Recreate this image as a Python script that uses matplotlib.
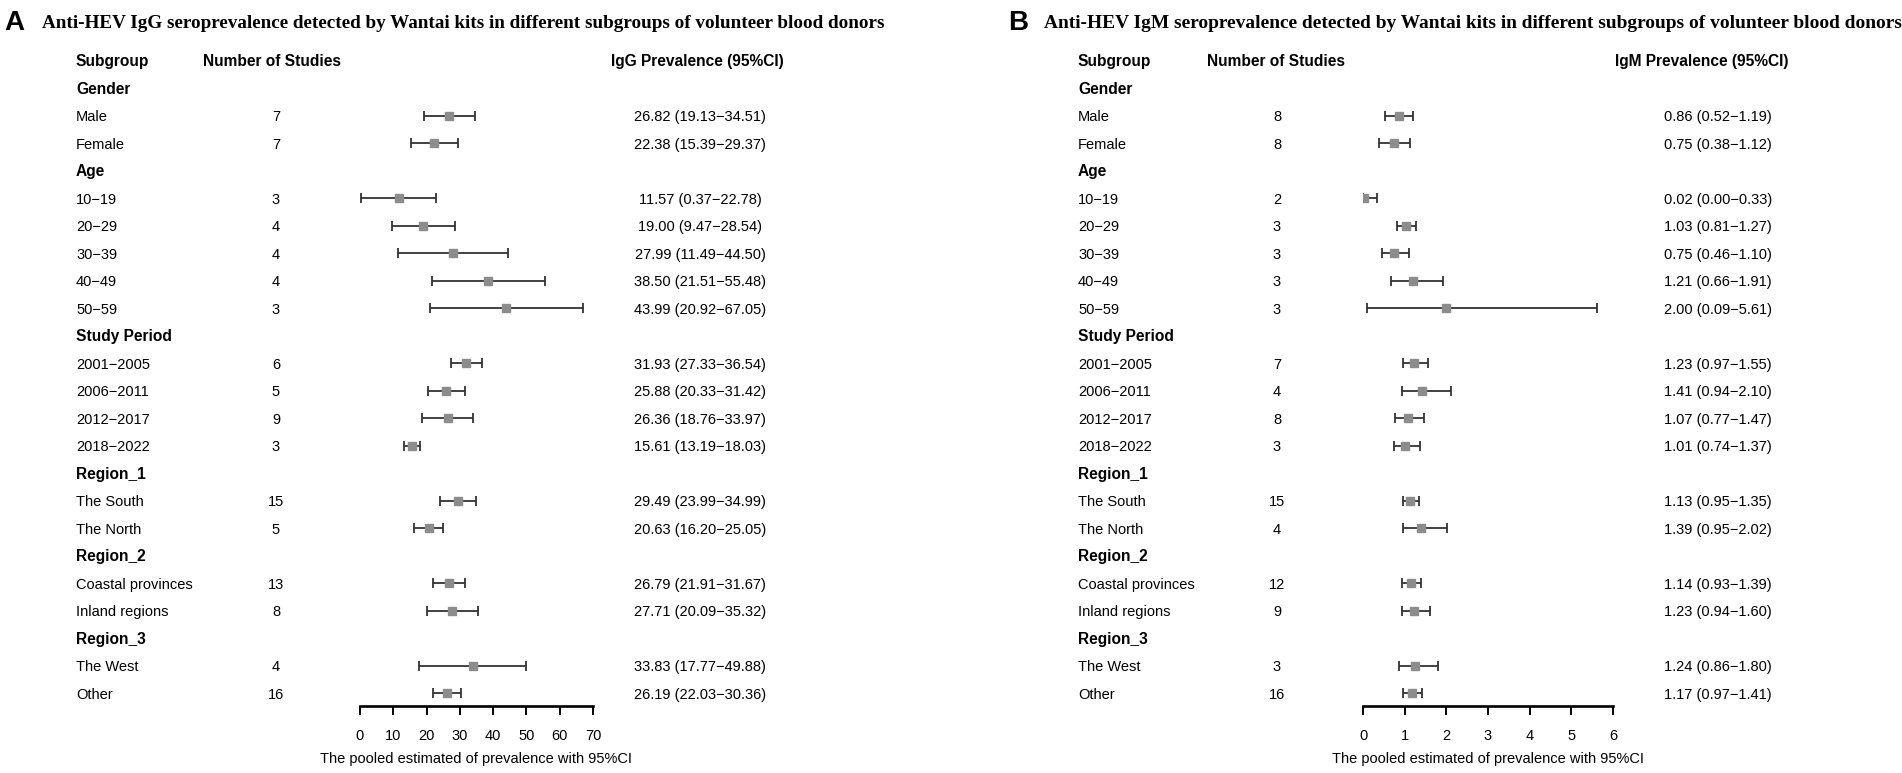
import matplotlib
matplotlib.use("Agg")
import matplotlib.pyplot as plt
from matplotlib.transforms import Affine2D

W, H, DPI = 1902, 773, 100

# ---------------- data ----------------
groups = ["Gender", "Age", "Study Period", "Region_1", "Region_2", "Region_3"]
subgroups = [
    ["Male", "Female"],
    ["10\u221219", "20\u221229", "30\u221239", "40\u221249", "50\u221259"],
    ["2001\u22122005", "2006\u22122011", "2012\u22122017", "2018\u22122022"],
    ["The South", "The North"],
    ["Coastal provinces", "Inland regions"],
    ["The West", "Other"],
]

igg_n = [7, 7, 3, 4, 4, 4, 3, 6, 5, 9, 3, 15, 5, 13, 8, 4, 16]
igg_est = [26.82, 22.38, 11.57, 19.00, 27.99, 38.50, 43.99, 31.93, 25.88, 26.36,
           15.61, 29.49, 20.63, 26.79, 27.71, 33.83, 26.19]
igg_lo = [19.13, 15.39, 0.37, 9.47, 11.49, 21.51, 20.92, 27.33, 20.33, 18.76,
          13.19, 23.99, 16.20, 21.91, 20.09, 17.77, 22.03]
igg_hi = [34.51, 29.37, 22.78, 28.54, 44.50, 55.48, 67.05, 36.54, 31.42, 33.97,
          18.03, 34.99, 25.05, 31.67, 35.32, 49.88, 30.36]

igm_n = [8, 8, 2, 3, 3, 3, 3, 7, 4, 8, 3, 15, 4, 12, 9, 3, 16]
igm_est = [0.86, 0.75, 0.02, 1.03, 0.75, 1.21, 2.00, 1.23, 1.41, 1.07, 1.01,
           1.13, 1.39, 1.14, 1.23, 1.24, 1.17]
igm_lo = [0.52, 0.38, 0.00, 0.81, 0.46, 0.66, 0.09, 0.97, 0.94, 0.77, 0.74,
          0.95, 0.95, 0.93, 0.94, 0.86, 0.97]
igm_hi = [1.19, 1.12, 0.33, 1.27, 1.10, 1.91, 5.61, 1.55, 2.10, 1.47, 1.37,
          1.35, 2.02, 1.39, 1.60, 1.80, 1.41]

igg_ticks = [0, 10, 20, 30, 40, 50, 60, 70]
igm_ticks = [0, 1, 2, 3, 4, 5, 6]

titles = [
    "Anti-HEV IgG seroprevalence detected by Wantai kits in different subgroups of volunteer blood donors",
    "Anti-HEV IgM seroprevalence detected by Wantai kits in different subgroups of volunteer blood donors",
]
prev_headers = ["IgG Prevalence (95%CI)", "IgM Prevalence (95%CI)"]
xlabel_text = "The pooled estimated of prevalence with 95%CI"

# ---------------- layout ----------------
SANS = ["Liberation Sans", "DejaVu Sans"]
SERIF = ["Liberation Serif", "DejaVu Serif"]
FS = 10.5        # body text
FSH = 11.2       # bold header / group text
ROW0, DROW = 60.8, 27.5          # pixel y of header row, row spacing
AXIS_Y = 705.7                   # pixel y of x-axis line
LINE_C = "#333333"
BOX_C = "#8c8c8c"

fig = plt.figure(figsize=(W / DPI, H / DPI), dpi=DPI)
px = Affine2D().scale(1.0 / W, -1.0 / H).translate(0, 1) + fig.transFigure


def ty(y, fs=FS):
    # baseline for visually centred text
    return y + 0.5 * fs


def panel(letter, title, prev_hdr, n, est, lo, hi, ticks, L):
    fig.text(L["letter"], 23, letter, transform=px, family=SANS, weight="bold",
             fontsize=20, va="center", ha="left")
    fig.text(L["title"], 23, title, transform=px, family=SERIF, weight="bold",
             fontsize=L["tfs"], va="center", ha="left")
    # header row
    for x, s in [(L["sub"], "Subgroup"), (L["nhdr"], "Number of Studies"),
                 (L["vhdr"], prev_hdr)]:
        fig.text(x, ty(ROW0, FSH), s, transform=px, family=SANS,
                 weight="bold", fontsize=FSH, va="baseline")

    ax = fig.add_axes([L["ax0"] / W, 0, (L["ax1"] - L["ax0"]) / W, 1])
    ax.patch.set_alpha(0)
    ax.set_xlim(ticks[0], ticks[-1])
    r_top = (0 - ROW0) / DROW
    r_bot = (H - ROW0) / DROW
    ax.set_ylim(r_bot, r_top)

    r = 1
    k = 0
    rows_y, e_, l_, h_ = [], [], [], []
    for g, subs in zip(groups, subgroups):
        fig.text(L["sub"], ty(ROW0 + r * DROW, FSH), g, transform=px,
                 family=SANS, weight="bold", fontsize=FSH, va="baseline")
        r += 1
        for s in subs:
            y = ROW0 + r * DROW
            fig.text(L["sub"], ty(y), s, transform=px, family=SANS,
                     fontsize=FS, va="baseline")
            fig.text(L["num"], ty(y), str(n[k]), transform=px, family=SANS,
                     fontsize=FS, va="baseline", ha="center")
            fig.text(L["val"], ty(y),
                     f"{est[k]:.2f} ({lo[k]:.2f}\u2212{hi[k]:.2f})",
                     transform=px, family=SANS, fontsize=FS, va="baseline",
                     ha="center")
            rows_y.append(r)
            e_.append(est[k]); l_.append(lo[k]); h_.append(hi[k])
            r += 1
            k += 1

    xerr = [[e - a for e, a in zip(e_, l_)], [b - e for e, b in zip(e_, h_)]]
    ax.errorbar(e_, rows_y, xerr=xerr, fmt="none", ecolor=LINE_C,
                elinewidth=1.3, capsize=3.4, capthick=1.3, zorder=2)
    ax.plot(e_, rows_y, ls="none", marker="s", ms=5.6, color=BOX_C,
            mec=BOX_C, zorder=3)

    for sp in ["top", "left", "right"]:
        ax.spines[sp].set_visible(False)
    ax.spines["bottom"].set_position(("data", (AXIS_Y - ROW0) / DROW))
    ax.spines["bottom"].set_linewidth(1.9)
    ax.set_yticks([])
    ax.set_xticks(ticks)
    ax.set_xticklabels([str(t) for t in ticks], family=SANS, fontsize=FS)
    ax.tick_params(axis="x", direction="out", length=6.6, width=1.4,
                   pad=10, colors="black")
    ax.set_xlabel(xlabel_text, family=SANS, fontsize=FS, va="center")
    ax.xaxis.set_label_coords(0.5, 1 - 758.5 / H)


LA = dict(letter=4, title=42, tfs=13.8, sub=76, nhdr=203, num=276, vhdr=611,
          ax0=360, ax1=593, val=700)
LB = dict(letter=1008, title=1044, tfs=13.95, sub=1078, nhdr=1207, num=1277,
          vhdr=1615, ax0=1363, ax1=1613, val=1718)

panel("A", titles[0], prev_headers[0], igg_n, igg_est, igg_lo, igg_hi,
      igg_ticks, LA)
panel("B", titles[1], prev_headers[1], igm_n, igm_est, igm_lo, igm_hi,
      igm_ticks, LB)

fig.savefig("out.png", dpi=DPI)
